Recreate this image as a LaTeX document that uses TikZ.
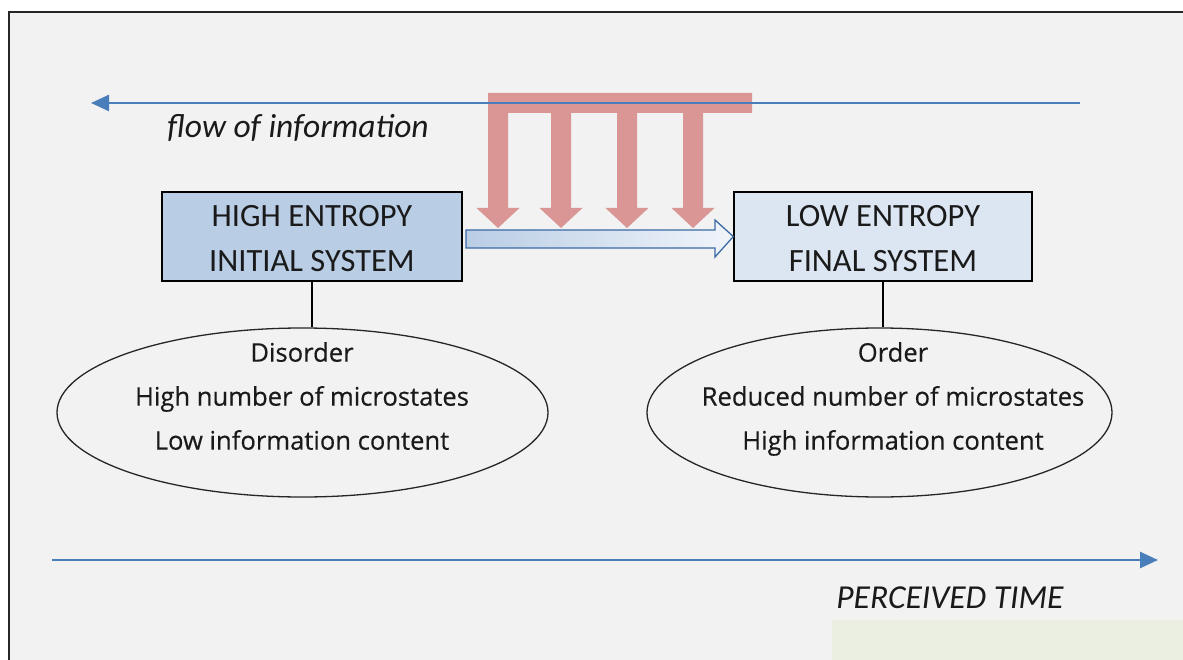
\documentclass[tikz,border=0pt]{standalone}
\usepackage{fontspec}
\setmainfont{Carlito}
\newfontfamily\ellfont[FakeBold=0.4]{Open Sans}
\usetikzlibrary{arrows.meta,shapes.geometric}
\definecolor{bg}{HTML}{F2F2F2}
\definecolor{frame}{HTML}{262626}
\definecolor{patch}{HTML}{EBEFE1}
\definecolor{flowblue}{HTML}{4A7EBB}
\definecolor{boxdark}{HTML}{B9CDE5}
\definecolor{boxlight}{HTML}{DCE6F2}
\definecolor{combred}{HTML}{D99694}
\definecolor{hollowedge}{HTML}{3C6AA5}
\definecolor{ink}{HTML}{1A1A1A}
\tikzset{
  sysbox/.style={draw=black, line width=1.4pt, minimum width=#1, minimum height=89pt, inner sep=0pt},
  boxtext/.style={align=center, text=ink, inner sep=0pt, font=\fontsize{32.5}{45}\selectfont},
  ellbox/.style={draw=black!85, line width=1.3pt, ellipse, inner sep=0pt},
  elltext/.style={align=center, text=ink, font=\ellfont\fontsize{25.6}{44}\selectfont},
  axisarrow/.style={draw=flowblue, line width=2.6pt, -{Triangle[length=18pt,width=16pt]}},
  caption/.style={text=ink, font=\itshape\fontsize{33.5}{38}\selectfont}
}
\begin{document}
\begin{tikzpicture}[x=1pt,y=-1pt]
\useasboundingbox (0,0) rectangle (1183,660);
\fill[white] (0,0) rectangle (1183,660);
\begin{scope}
\clip (0,0) rectangle (1183,660);
\draw[fill=bg, draw=frame, line width=2.5pt] (9,12) rectangle (1200,690);
\end{scope}
\fill[patch] (832,620) rectangle (1183,660);

% red comb
\fill[combred]
  (488,93) -- (752,93) -- (752,113)
  -- (703,113) -- (703,208) -- (714.5,208) -- (693,228) -- (671.5,208) -- (683,208) -- (683,113)
  -- (637,113) -- (637,208) -- (648.5,208) -- (627,228) -- (605.5,208) -- (617,208) -- (617,113)
  -- (571,113) -- (571,208) -- (582.5,208) -- (561,228) -- (539.5,208) -- (551,208) -- (551,113)
  -- (508,113) -- (508,208) -- (519.5,208) -- (498,228) -- (476.5,208) -- (488,208) -- cycle;

% top arrow
\coordinate (flowstart) at (1080,103);
\coordinate (flowend) at (91,103);
\draw[axisarrow] (flowstart) -- (flowend);
\node[caption] (flowlabel) at (298,128) {flow of information};

% boxes
\node[sysbox=300pt, fill=boxdark] (hi) at (312,236.5) {};
\node[sysbox=298pt, fill=boxlight] (lo) at (883,236.5) {};
\node[boxtext] (hitext) at ([yshift=-5pt]hi.center) {\vphantom{Hg}HIGH ENTROPY\\INITIAL SYSTEM\vphantom{Hg}};
\node[boxtext] (lotext) at ([yshift=-5pt]lo.center) {\vphantom{Hg}LOW ENTROPY\\FINAL SYSTEM\vphantom{Hg}};

% hollow arrow
\shade[left color=boxdark, right color=boxlight!40!white, draw=hollowedge, line width=1.3pt]
  (466,230) -- (715,230) -- (715,220) -- (lo.west) -- (715,257) -- (715,248) -- (466,248) -- cycle;

% ellipses
\node[ellbox, minimum width=491pt, minimum height=169pt] (e1) at (302.5,412.5) {};
\node[ellbox, minimum width=465pt, minimum height=169pt] (e2) at (879.5,412.5) {};
\draw[line width=1.2pt] (hi.south) -- (hi.south |- e1.north);
\draw[line width=1.2pt] (lo.south) -- (lo.south |- e2.north);
\node[elltext] (t1) at (302,399) {\vphantom{Hg}Disorder\\High number of microstates\\Low information content\vphantom{Hg}};
\node[elltext] (t2) at (893,399) {\vphantom{Hg}Order\\Reduced number of microstates\\High information content\vphantom{Hg}};

% bottom arrow
\coordinate (timestart) at (52,560);
\coordinate (timeend) at (1158,560);
\draw[axisarrow] (timestart) -- (timeend);
\node[caption] (timelabel) at (950,598) {PERCEIVED TIME};
\end{tikzpicture}
\end{document}
